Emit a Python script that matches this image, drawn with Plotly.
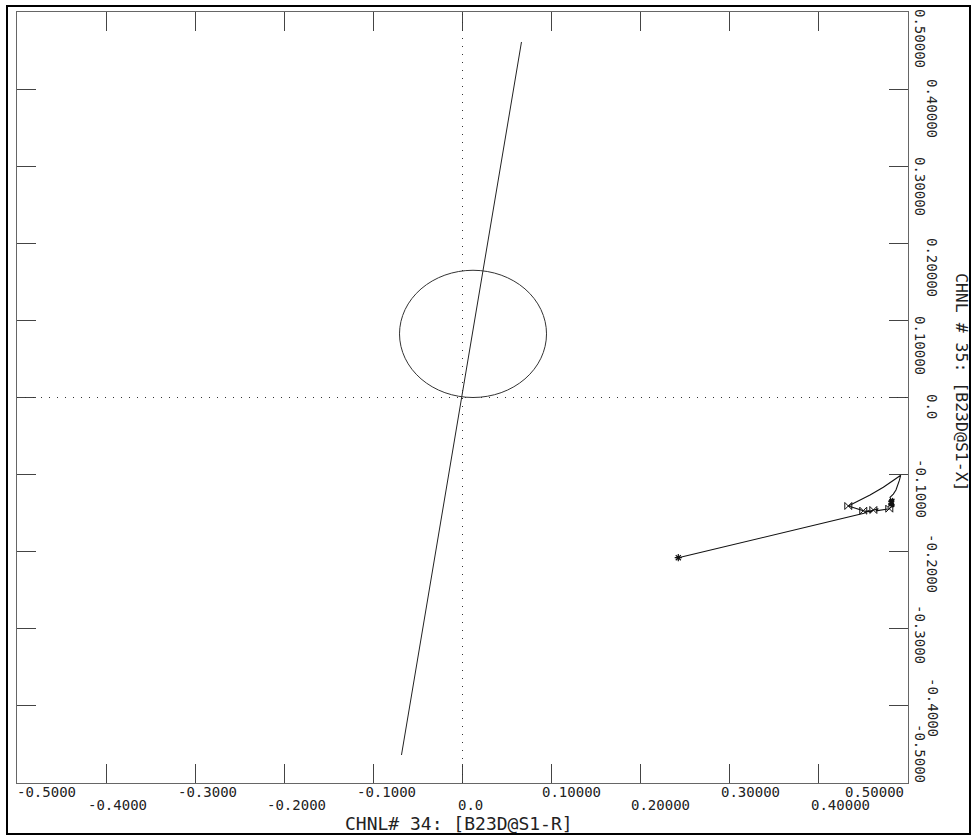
import plotly.graph_objects as go

# ---------------- data ----------------
x_tick_values = [-0.5, -0.4, -0.3, -0.2, -0.1, 0.0, 0.1, 0.2, 0.3, 0.4, 0.5]
x_tick_labels = ["-0.5000", "-0.4000", "-0.3000", "-0.2000", "-0.1000", "0.0",
                 "0.10000", "0.20000", "0.30000", "0.40000", "0.50000"]
y_tick_values = [0.5, 0.4, 0.3, 0.2, 0.1, 0.0, -0.1, -0.2, -0.3, -0.4, -0.5]
y_tick_labels = ["0.50000", "0.40000", "0.30000", "0.20000", "0.10000", "0.0",
                 "-0.1000", "-0.2000", "-0.3000", "-0.4000", "-0.5000"]

x_title = "CHNL# 34: [B23D@S1-R]"
y_title = "CHNL # 35: [B23D@S1-X]"

# straight reference line
line_x = [-0.0685, 0.0662]
line_y = [-0.4637, 0.4611]

# circle (center and radius, data units)
circle_cx = 0.0118
circle_cy = 0.0825
circle_r = 0.0825

# trajectory
traj_x = [0.2422, 0.4506, 0.4554, 0.4581, 0.4611, 0.4667, 0.4640, 0.4720, 0.4790,
          0.4805, 0.4845, 0.4785, 0.4840, 0.4780, 0.4838, 0.4778, 0.4832, 0.4848,
          0.4782, 0.4842, 0.4776, 0.4836, 0.4784, 0.4850, 0.4790, 0.4846, 0.4780,
          0.4830, 0.4795, 0.4844, 0.4798,
          0.4835, 0.4865, 0.4902, 0.4918,
          0.4854, 0.4723, 0.4574, 0.4424, 0.4330,
          0.4498, 0.4560, 0.4611]
traj_y = [-0.2078, -0.1502, -0.1468, -0.1485, -0.1459, -0.1442, -0.1470, -0.1450, -0.1442,
          -0.1424, -0.1410, -0.1400, -0.1385, -0.1372, -0.1360, -0.1345, -0.1330, -0.1318,
          -0.1395, -0.1352, -0.1415, -0.1372, -0.1338, -0.1398, -0.1322, -0.1342, -0.1388,
          -0.1305, -0.1365, -0.1420, -0.1294,
          -0.1252, -0.1200, -0.1079, -0.1009,
          -0.1061, -0.1165, -0.1265, -0.1351, -0.1407,
          -0.1468, -0.1480, -0.1459]

bowtie_x = [0.4330, 0.4498, 0.4611, 0.4790]
bowtie_y = [-0.1407, -0.1468, -0.1459, -0.1442]
start_x = [0.2422]
start_y = [-0.2078]

# ---------------- layout constants ----------------
W, H = 972, 836
ML, MR, MT, MB = 17, 64, 12, 53
PW = W - ML - MR
PH = H - MT - MB

# label offsets (pixels) relative to tick
x_label_shift = [29, 11, 12, 12, 13, 8, 20, 20, 21, 22, -34]
x_label_row = [-9, -22, -9, -22, -9, -22, -9, -22, -9, -22, -9]
y_label_col = [12, 24, 12, 24, 12, 24, 13, 24, 12, 25, 12]   # px right of plot edge
y_label_center = [38, 108, 186, 267, 345, 406, 488, 563, 634, 707, 753]  # px from top

def px_y(v):
    return MT + (0.5 - v) * PH

fig = go.Figure()

fig.add_trace(go.Scatter(x=line_x, y=line_y, mode="lines",
                         line=dict(color="#222222", width=1), showlegend=False,
                         hoverinfo="skip"))
fig.add_trace(go.Scatter(x=traj_x, y=traj_y, mode="lines",
                         line=dict(color="#111111", width=1.1), showlegend=False))
fig.add_trace(go.Scatter(x=bowtie_x, y=bowtie_y, mode="markers",
                         marker=dict(symbol="bowtie-open", size=7, color="#111111",
                                     line=dict(width=1, color="#111111")),
                         showlegend=False))
fig.add_trace(go.Scatter(x=start_x, y=start_y, mode="markers",
                         marker=dict(symbol="asterisk-open", size=6, color="#111111",
                                     line=dict(width=1.2, color="#111111")),
                         showlegend=False))

shapes = []
# circle
shapes.append(dict(type="circle", xref="x", yref="y",
                   x0=circle_cx - circle_r, x1=circle_cx + circle_r,
                   y0=circle_cy - circle_r, y1=circle_cy + circle_r,
                   line=dict(color="#333333", width=1)))
# dotted zero lines
shapes.append(dict(type="line", xref="x", yref="y", x0=-0.5, x1=0.5, y0=0, y1=0,
                   line=dict(color="#333333", width=1, dash="1px,7px")))
shapes.append(dict(type="line", xref="x", yref="y", x0=0, x1=0, y0=-0.5, y1=0.5,
                   line=dict(color="#333333", width=1, dash="1px,7px")))
# outer border
bx0, bx1, by0, by1 = 7, 970, 6, 834
shapes.append(dict(type="rect", xref="paper", yref="paper",
                   x0=(bx0 - ML) / PW, x1=(bx1 - ML) / PW,
                   y0=(H - MB - by1) / PH, y1=(H - MB - by0) / PH,
                   line=dict(color="black", width=2)))

annotations = []
tick_font = dict(family="DejaVu Sans Mono", size=14, color="#222222")
for v, t, dx, dy in zip(x_tick_values, x_tick_labels, x_label_shift, x_label_row):
    annotations.append(dict(x=v, xref="x", y=0, yref="paper", text=t, showarrow=False,
                            xanchor="center", yanchor="middle", xshift=dx, yshift=dy,
                            font=tick_font))
for v, t, cx, cy in zip(y_tick_values, y_tick_labels, y_label_col, y_label_center):
    annotations.append(dict(x=1, xref="paper", y=v, yref="y", text=t, showarrow=False,
                            xanchor="center", yanchor="middle", textangle=90,
                            xshift=cx, yshift=-(cy - px_y(v)),
                            font=tick_font))

annotations.append(dict(x=(459 - ML) / PW, xref="paper", y=0, yref="paper", text=x_title,
                        showarrow=False, xanchor="center", yanchor="middle",
                        yshift=-(823 - (H - MB)),
                        font=dict(family="DejaVu Sans Mono", size=18, color="#222222")))
annotations.append(dict(x=1, xref="paper", y=(H - MB - 382) / PH, yref="paper", text=y_title,
                        showarrow=False, xanchor="center", yanchor="middle", textangle=90,
                        xshift=961 - (W - MR),
                        font=dict(family="DejaVu Sans Mono", size=16.5, color="#222222")))

axis_common = dict(range=[-0.5, 0.5], showticklabels=False, ticks="inside", ticklen=19,
                   tickcolor="#444444", tickwidth=1, showline=True, linecolor="#666666",
                   linewidth=1, mirror="ticks", showgrid=False, zeroline=False)

fig.update_layout(
    width=W, height=H,
    margin=dict(l=ML, r=MR, t=MT, b=MB),
    paper_bgcolor="white", plot_bgcolor="white",
    xaxis=dict(tickvals=x_tick_values, **axis_common),
    yaxis=dict(tickvals=y_tick_values, **axis_common),
    shapes=shapes, annotations=annotations,
    showlegend=False,
)

fig.write_html("out.html", config={"displayModeBar": False},
               post_script="document.body.style.margin='0px';")
